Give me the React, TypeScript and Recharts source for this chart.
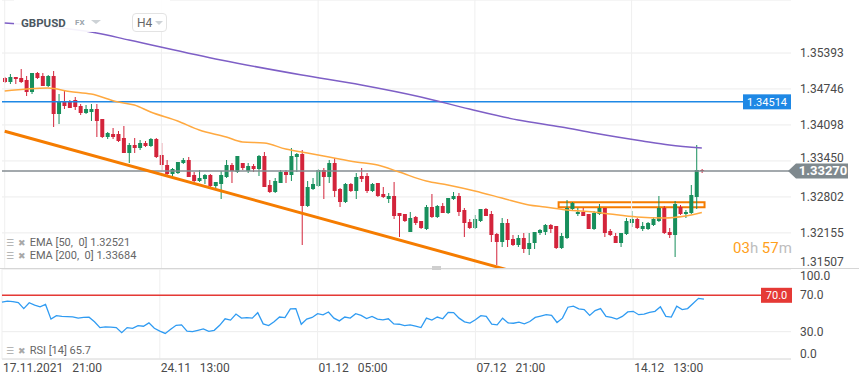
import React from 'react';
import { ComposedChart, Bar, Line, XAxis, YAxis, CartesianGrid, ReferenceLine, ReferenceArea } from 'recharts';

// ---- candle data (GBPUSD, H4) ----
const opens = [
  1.34943, 1.34871, 1.34961, 1.34943, 1.34907, 1.34691, 1.35033, 1.34979, 1.34799, 1.34979,
  1.34295, 1.34511, 1.34511, 1.34547, 1.34439, 1.34313, 1.34331, 1.34385, 1.34205, 1.33881,
  1.33935, 1.33935, 1.33863, 1.33593, 1.33737, 1.33683, 1.33773, 1.33719, 1.33845, 1.33557,
  1.33377, 1.33215, 1.33233, 1.33413, 1.33467, 1.33197, 1.33089, 1.33125, 1.33197, 1.32999,
  1.33035, 1.33161, 1.33377, 1.33251, 1.33413, 1.33269, 1.33359, 1.33305, 1.33539, 1.33017,
  1.32891, 1.33053, 1.33251, 1.33197, 1.33521, 1.33575, 1.32639, 1.32945, 1.32999, 1.33287,
  1.33161, 1.33413, 1.32945, 1.32711, 1.33035, 1.32909, 1.33179, 1.33179, 1.32909, 1.33053,
  1.32855, 1.32765, 1.32819, 1.32513, 1.32495, 1.32171, 1.32441, 1.32369, 1.32225, 1.32621,
  1.32441, 1.32639, 1.32513, 1.32765, 1.32819, 1.32567, 1.32351, 1.32243, 1.32369, 1.32585,
  1.32495, 1.32135, 1.31991, 1.32333, 1.32045, 1.31937, 1.32063, 1.31865, 1.31973, 1.32153,
  1.32171, 1.32297, 1.32279, 1.31883, 1.32063, 1.32585, 1.32495, 1.32531, 1.32495, 1.32225,
  1.32495, 1.32603, 1.32189, 1.32099, 1.31973, 1.32135, 1.32333, 1.32405, 1.32225, 1.32225,
  1.32297, 1.32369, 1.32603, 1.32171, 1.32117, 1.32621, 1.32495, 1.32513, 1.32801, 1.33287,
];
const highs = [
  1.34961, 1.35015, 1.34961, 1.35105, 1.34979, 1.35033, 1.35051, 1.35033, 1.34997, 1.35069,
  1.34655, 1.34709, 1.34547, 1.34601, 1.34475, 1.34457, 1.34475, 1.34475, 1.34205, 1.33971,
  1.34043, 1.33989, 1.34079, 1.33773, 1.33863, 1.33827, 1.33809, 1.33863, 1.33863, 1.33773,
  1.33467, 1.33323, 1.33431, 1.33503, 1.33521, 1.33251, 1.33287, 1.33215, 1.33215, 1.33071,
  1.33269, 1.33467, 1.33413, 1.33539, 1.33413, 1.33413, 1.33395, 1.33557, 1.33611, 1.33107,
  1.33143, 1.33287, 1.33287, 1.33683, 1.33593, 1.33647, 1.33089, 1.33143, 1.33305, 1.33323,
  1.33467, 1.33503, 1.32963, 1.33053, 1.33053, 1.33233, 1.33323, 1.33233, 1.33053, 1.33053,
  1.32981, 1.32873, 1.33071, 1.32513, 1.32495, 1.32531, 1.32459, 1.32369, 1.32657, 1.32855,
  1.32657, 1.32693, 1.32783, 1.32891, 1.32873, 1.32603, 1.32405, 1.32477, 1.32585, 1.32603,
  1.32549, 1.32153, 1.32423, 1.32405, 1.32117, 1.32117, 1.32153, 1.32153, 1.32171, 1.32225,
  1.32315, 1.32315, 1.32279, 1.32153, 1.32747, 1.32711, 1.32603, 1.32603, 1.32495, 1.32549,
  1.32675, 1.32603, 1.32225, 1.32153, 1.32153, 1.32423, 1.32549, 1.32423, 1.32351, 1.32351,
  1.32441, 1.32819, 1.32639, 1.32243, 1.32729, 1.32657, 1.32567, 1.33017, 1.33737, 1.33305,
];
const lows = [
  1.34853, 1.34835, 1.34835, 1.34853, 1.34619, 1.34655, 1.34925, 1.34799, 1.34781, 1.34061,
  1.34115, 1.34385, 1.34403, 1.34367, 1.34277, 1.34295, 1.34169, 1.33881, 1.33863, 1.33845,
  1.33845, 1.33791, 1.33593, 1.33413, 1.33593, 1.33647, 1.33701, 1.33701, 1.33503, 1.33287,
  1.33197, 1.33179, 1.33215, 1.33395, 1.33161, 1.33071, 1.33071, 1.33035, 1.32981, 1.32963,
  1.32765, 1.33143, 1.33053, 1.33233, 1.33287, 1.33233, 1.33251, 1.33179, 1.32981, 1.32873,
  1.32873, 1.33053, 1.33053, 1.33089, 1.33251, 1.31937, 1.32621, 1.32927, 1.32981, 1.32765,
  1.33053, 1.32801, 1.32621, 1.32693, 1.32891, 1.32765, 1.33071, 1.32873, 1.32891, 1.32801,
  1.32783, 1.32693, 1.32405, 1.32081, 1.32351, 1.32171, 1.32297, 1.32225, 1.32207, 1.32423,
  1.32423, 1.32513, 1.32495, 1.32747, 1.32459, 1.32081, 1.32225, 1.32225, 1.32351, 1.32459,
  1.31991, 1.31577, 1.31901, 1.31901, 1.31919, 1.31901, 1.31793, 1.31757, 1.31865, 1.32117,
  1.32117, 1.32153, 1.31865, 1.31865, 1.32045, 1.32549, 1.32459, 1.32459, 1.32225, 1.32207,
  1.32477, 1.32081, 1.32099, 1.31973, 1.31901, 1.32117, 1.32261, 1.32225, 1.32189, 1.32207,
  1.32279, 1.32351, 1.32135, 1.32063, 1.31721, 1.32477, 1.32423, 1.32495, 1.32585, 1.33233,
];
const closes = [
  1.34871, 1.34961, 1.34925, 1.34871, 1.34691, 1.35033, 1.34943, 1.34799, 1.34979, 1.34295,
  1.34511, 1.34439, 1.34403, 1.34421, 1.34313, 1.34385, 1.34385, 1.34169, 1.33881, 1.33953,
  1.33881, 1.33809, 1.33593, 1.33737, 1.33683, 1.33773, 1.33719, 1.33845, 1.33521, 1.33377,
  1.33215, 1.33305, 1.33431, 1.33467, 1.33161, 1.33089, 1.33143, 1.33197, 1.32999, 1.33071,
  1.33197, 1.33377, 1.33269, 1.33539, 1.33323, 1.33359, 1.33305, 1.33539, 1.32981, 1.32891,
  1.33089, 1.33251, 1.33197, 1.33539, 1.33575, 1.32639, 1.32981, 1.33035, 1.33287, 1.33161,
  1.33413, 1.32909, 1.32711, 1.33035, 1.32909, 1.33161, 1.33125, 1.32909, 1.33035, 1.32819,
  1.32801, 1.32819, 1.32459, 1.32459, 1.32369, 1.32423, 1.32333, 1.32243, 1.32621, 1.32441,
  1.32639, 1.32513, 1.32783, 1.32819, 1.32531, 1.32333, 1.32243, 1.32405, 1.32585, 1.32459,
  1.32117, 1.31991, 1.32333, 1.32027, 1.31937, 1.32063, 1.31865, 1.31973, 1.32171, 1.32207,
  1.32297, 1.32225, 1.31883, 1.32099, 1.32603, 1.32693, 1.32531, 1.32459, 1.32225, 1.32513,
  1.32603, 1.32153, 1.32117, 1.31973, 1.32153, 1.32369, 1.32405, 1.32243, 1.32279, 1.32333,
  1.32405, 1.32603, 1.32153, 1.32117, 1.32675, 1.32495, 1.32531, 1.32837, 1.33287, 1.3327,
];

// RSI(14)
const rsiValues = [
  62.5, 63.6, 63.0, 62.0, 55.4, 61.8, 59.2, 57.3, 59.9, 43.8,
  47.6, 46.8, 46.6, 46.4, 44.9, 45.7, 45.9, 41.0, 34.5, 35.2,
  35.0, 34.5, 28.9, 34.5, 33.7, 36.7, 36.0, 39.7, 33.7, 30.7,
  28.1, 32.6, 37.0, 37.5, 30.7, 30.0, 31.5, 33.0, 30.4, 31.5,
  37.0, 44.2, 42.7, 49.4, 44.9, 45.5, 44.9, 50.9, 38.6, 36.7,
  41.0, 46.1, 45.5, 55.0, 55.4, 38.2, 43.8, 45.7, 49.8, 48.6,
  51.7, 44.9, 41.9, 46.1, 45.0, 49.8, 47.9, 44.5, 46.8, 43.8,
  43.0, 44.2, 38.6, 38.2, 36.7, 37.5, 36.0, 34.5, 44.9, 42.7,
  46.1, 44.2, 51.3, 51.0, 44.9, 40.8, 39.5, 43.1, 47.6, 46.8,
  38.2, 37.5, 44.9, 39.7, 39.3, 40.5, 38.6, 41.2, 45.7, 47.2,
  48.7, 48.0, 40.1, 44.9, 56.9, 58.0, 55.0, 54.3, 47.9, 53.2,
  55.4, 46.8, 45.7, 43.8, 46.8, 51.7, 52.4, 48.7, 49.4, 51.3,
  52.4, 57.3, 46.8, 46.0, 58.0, 54.3, 55.4, 61.0, 66.6, 65.7,
];

// EMA readings (bar index, value)
const ema50Idx = [0, 8, 12, 16, 21, 24, 27, 32, 36, 41, 44, 48, 52, 56, 60, 65, 69, 73, 78, 82, 87, 92, 97, 100, 104, 109, 112, 117, 122, 126, 129];
const ema50Val = [1.34709, 1.34763, 1.347, 1.34655, 1.34511, 1.34457, 1.34331, 1.34169, 1.34007, 1.33881, 1.33791, 1.33773, 1.33665, 1.33593, 1.33521, 1.33431, 1.33377, 1.33251, 1.33089, 1.33017, 1.32909, 1.32783, 1.32657, 1.32621, 1.32567, 1.32531, 1.32495, 1.32441, 1.32423, 1.32459, 1.32521];
const ema200Idx = [0, 17, 23, 40, 55, 66, 77, 86, 95, 103, 109, 118, 123, 129];
const ema200Val = [1.35933, 1.35753, 1.35627, 1.35267, 1.34997, 1.34817, 1.34601, 1.34385, 1.34187, 1.34061, 1.33953, 1.33809, 1.33737, 1.33684];

// axes
const priceTicks = [1.31507, 1.32155, 1.32802, 1.3345, 1.34098, 1.34746, 1.35393];
const priceDomain = [1.31505, 1.36347];
const rsiTicks = [0, 30, 70, 100];
const timeTickIdx = [0, 29, 58, 87, 116];
const timeTickLabels = ['17.11.2021\u00a0\u00a0\u00a021:00', '24.11\u00a0\u00a0\u00a013:00', '01.12\u00a0\u00a0\u00a005:00', '07.12\u00a0\u00a0\u00a021:00', '14.12\u00a0\u00a0\u00a013:00'];
const TOTAL_SLOTS = 146;

// levels / drawings
const resistanceLevel = 1.34514;
const lastPrice = 1.3327;
const rsiOverbought = 70;
const trendStartIdx = 0;
const trendStartPrice = 1.33984;
const trendEndIdx = 95;
const trendEndPrice = 1.31438;
const boxIdx1 = 103;
const boxIdx2 = 129;
const boxLow = 1.32616;
const boxHigh = 1.32706;

const GREEN = '#178f5c';
const RED = '#d3243b';
const FONT = 'Roboto, sans-serif';

const rows = Array.from({ length: TOTAL_SLOTS }, (_, i) => {
  const has = i < opens.length;
  const e50 = ema50Idx.indexOf(i);
  const e200 = ema200Idx.indexOf(i);
  return {
    i,
    open: has ? opens[i] : undefined,
    high: has ? highs[i] : undefined,
    low: has ? lows[i] : undefined,
    close: has ? closes[i] : undefined,
    range: has ? [lows[i], highs[i]] : undefined,
    ema50: e50 >= 0 ? ema50Val[e50] : undefined,
    ema200: e200 >= 0 ? ema200Val[e200] : undefined,
    rsi: i < rsiValues.length ? rsiValues[i] : undefined,
  };
});

const Candle = (props: any) => {
  const { x, y, width, height, payload } = props;
  if (!payload || payload.open == null || x == null) return null;
  const top = Math.min(y, y + height);
  const h = Math.abs(height);
  const { open, high, low, close } = payload;
  const k = h / (high - low || 1);
  const oy = top + (high - open) * k;
  const cy = top + (high - close) * k;
  const color = close >= open ? GREEN : RED;
  const cx = x + width / 2;
  const bTop = Math.min(oy, cy);
  const bH = Math.max(Math.abs(oy - cy), 1);
  return (
    <g>
      <line x1={cx} x2={cx} y1={top} y2={top + h} stroke={color} strokeWidth={1} />
      <rect x={cx - 2} y={bTop} width={4} height={bH} fill={color} />
    </g>
  );
};

const PriceTick = (props: any) => {
  const { x, y, payload } = props;
  const v = payload.value;
  let dy = 4;
  if (v === priceTicks[0]) dy = -3;
  if (v === 1.3345) dy = 1;
  return (
    <text x={x + 9} y={y + dy} fill="#4a4a4a" fontSize={12} fontFamily={FONT}>
      {Number(v).toFixed(5)}
    </text>
  );
};

const RsiTick = (props: any) => {
  const { x, y, payload } = props;
  const v = payload.value;
  let dy = 4;
  if (v === 100) dy = 12;
  if (v === 0) dy = -1;
  return (
    <text x={x + 9} y={y + dy} fill="#4a4a4a" fontSize={12} fontFamily={FONT}>
      {Number(v).toFixed(1)}
    </text>
  );
};

const TimeTick = (props: any) => {
  const { x, y, payload } = props;
  const idx = timeTickIdx.indexOf(payload.value);
  return (
    <text x={x + 1} y={y + 13} fill="#4a4a4a" fontSize={12} fontFamily={FONT} textAnchor="start">
      {idx >= 0 ? timeTickLabels[idx] : ''}
    </text>
  );
};

const BlueTag = (props: any) => {
  const vb = props.viewBox || {};
  const right = vb.x + vb.width;
  const cy = vb.y;
  return (
    <g>
      <rect x={right - 48} y={cy - 7.5} width={48} height={15} fill="#1e88e5" />
      <text x={right - 24} y={cy + 4} fill="#fff" fontSize={11} fontFamily={FONT} textAnchor="middle">
        {resistanceLevel.toFixed(5)}
      </text>
    </g>
  );
};

const GrayTag = (props: any) => {
  const vb = props.viewBox || {};
  const right = vb.x + vb.width;
  const cy = vb.y;
  const l = right - 3;
  const pts = `${l},${cy} ${l + 8},${cy - 7.5} ${l + 60},${cy - 7.5} ${l + 60},${cy + 7.5} ${l + 8},${cy + 7.5}`;
  return (
    <g>
      <polygon points={pts} fill="#7f898e" />
      <text x={l + 35} y={cy + 4.5} fill="#fff" fontSize={13} fontWeight={700} fontFamily={FONT} textAnchor="middle">
        {lastPrice.toFixed(5)}
      </text>
    </g>
  );
};

const RedTag = (props: any) => {
  const vb = props.viewBox || {};
  const right = vb.x + vb.width;
  const cy = vb.y;
  return (
    <g>
      <rect x={right - 30} y={cy - 7.5} width={31} height={15} fill="#e53935" />
      <text x={right - 14.5} y={cy + 4} fill="#fff" fontSize={11} fontFamily={FONT} textAnchor="middle">
        {rsiOverbought.toFixed(1)}
      </text>
    </g>
  );
};

const iconStyle: React.CSSProperties = { color: '#a8a8a8', fontFamily: 'DejaVu Sans, sans-serif', fontSize: 9 };

const LegendRow = ({ top, text }: { top: number; text: string }) => (
  <div style={{ position: 'absolute', left: 6, top, height: 12, lineHeight: '12px', whiteSpace: 'pre', fontSize: 11, color: '#666', fontFamily: FONT }}>
    <span style={iconStyle}>☰</span>
    <span style={{ ...iconStyle, marginLeft: 4 }}>✖</span>
    <span style={{ marginLeft: 4 }}>{text}</span>
  </div>
);

export default function App() {
  return (
    <div style={{ position: 'absolute', left: 0, top: 0, width: 859, height: 385, background: '#fff', overflow: 'hidden', fontFamily: FONT }}>
      <div style={{ position: 'absolute', left: 0, top: 0 }}>
        <ComposedChart width={859} height={270} data={rows} margin={{ top: 0, right: 0, bottom: 1, left: 2 }}>
          <CartesianGrid vertical={false} stroke="#ececec" />
          <XAxis dataKey="i" type="category" hide />
          <YAxis
            orientation="right"
            width={68}
            domain={priceDomain}
            allowDataOverflow
            ticks={priceTicks}
            interval={0}
            tick={<PriceTick />}
            tickSize={0}
            tickMargin={0}
            axisLine={false}
            tickLine={false}
          />
          {timeTickIdx.map((t) => (
            <ReferenceLine key={'v' + t} x={t} stroke="#efefef" />
          ))}
          <ReferenceLine y={resistanceLevel} stroke="#1e88e5" strokeWidth={1.5} label={<BlueTag />} />
          <ReferenceLine y={lastPrice} stroke="#848d92" strokeWidth={1.5} label={<GrayTag />} />
          <ReferenceLine
            segment={[{ x: trendStartIdx, y: trendStartPrice }, { x: trendEndIdx, y: trendEndPrice }]}
            stroke="#f57c00"
            strokeWidth={3}
            ifOverflow="hidden"
          />
          <Line dataKey="ema200" stroke="#7e5fc6" strokeWidth={1.5} dot={false} connectNulls type="monotone" isAnimationActive={false} />
          <Line dataKey="ema50" stroke="#ffa940" strokeWidth={1.5} dot={false} connectNulls type="monotone" isAnimationActive={false} />
          <Bar dataKey="range" barSize={4} shape={<Candle />} isAnimationActive={false} />
          <ReferenceArea x1={boxIdx1} x2={boxIdx2} y1={boxLow} y2={boxHigh} stroke="#f57c00" strokeWidth={2} fill="none" fillOpacity={0} />
        </ComposedChart>
      </div>

      <div style={{ position: 'absolute', left: 0, top: 268 }}>
        <ComposedChart width={859} height={117} data={rows} margin={{ top: 0, right: 0, bottom: 0, left: 2 }}>
          <CartesianGrid vertical={false} stroke="#ececec" />
          <XAxis
            dataKey="i"
            type="category"
            ticks={timeTickIdx}
            interval={0}
            tick={<TimeTick />}
            tickSize={0}
            tickMargin={0}
            tickLine={false}
            axisLine={{ stroke: '#dedede' }}
            height={26}
          />
          <YAxis
            orientation="right"
            width={68}
            domain={[0, 100]}
            ticks={rsiTicks}
            interval={0}
            tick={<RsiTick />}
            tickSize={0}
            tickMargin={0}
            axisLine={false}
            tickLine={false}
          />
          {timeTickIdx.map((t) => (
            <ReferenceLine key={'rv' + t} x={t} stroke="#efefef" />
          ))}
          <ReferenceLine y={rsiOverbought} stroke="#e53935" strokeWidth={1.5} label={<RedTag />} />
          <Line dataKey="rsi" stroke="#2f9bf2" strokeWidth={1.3} dot={false} type="linear" isAnimationActive={false} />
        </ComposedChart>
      </div>

      {/* panel separator */}
      <div style={{ position: 'absolute', left: 0, top: 268, width: 859, height: 1, background: '#d6d6d6' }} />
      <div style={{ position: 'absolute', left: 432, top: 266, width: 9, height: 4, background: '#cfcfcf' }} />

      {/* header */}
      <div style={{ position: 'absolute', left: 14, top: 0, width: 156, height: 32, background: 'rgba(255,255,255,0.92)' }} />
      <div style={{ position: 'absolute', left: 21, top: 16, lineHeight: '14px', fontSize: 11.5, fontWeight: 700, color: '#4b5761' }}>GBPUSD</div>
      <div style={{ position: 'absolute', left: 75, top: 17, lineHeight: '12px', fontSize: 8, fontWeight: 700, color: '#9aa4ab' }}>FX</div>
      <div style={{ position: 'absolute', left: 91, top: 20, width: 0, height: 0, borderLeft: '5px solid transparent', borderRight: '5px solid transparent', borderTop: '4px solid #cdd2d6' }} />
      <div style={{ position: 'absolute', left: 132, top: 13, width: 33, height: 17, border: '1px solid #e3e3e3', borderRadius: 4, background: '#fff' }} />
      <div style={{ position: 'absolute', left: 137, top: 16, lineHeight: '14px', fontSize: 12, color: '#666' }}>H4</div>
      <div style={{ position: 'absolute', left: 155, top: 21, width: 0, height: 0, borderLeft: '4px solid transparent', borderRight: '4px solid transparent', borderTop: '4px solid #cdd2d6' }} />

      {/* indicator legends */}
      <LegendRow top={237} text="EMA [50,  0] 1.32521" />
      <LegendRow top={250} text="EMA [200,  0] 1.33684" />
      <LegendRow top={345} text="RSI [14] 65.7" />

      {/* countdown */}
      <div style={{ position: 'absolute', left: 733, top: 239, lineHeight: '18px', fontSize: 15, whiteSpace: 'pre' }}>
        <span style={{ color: '#ff9f1c' }}>03</span>
        <span style={{ color: '#bdbdbd' }}>h </span>
        <span style={{ color: '#ff9f1c' }}>57</span>
        <span style={{ color: '#bdbdbd' }}>m</span>
      </div>
    </div>
  );
}
